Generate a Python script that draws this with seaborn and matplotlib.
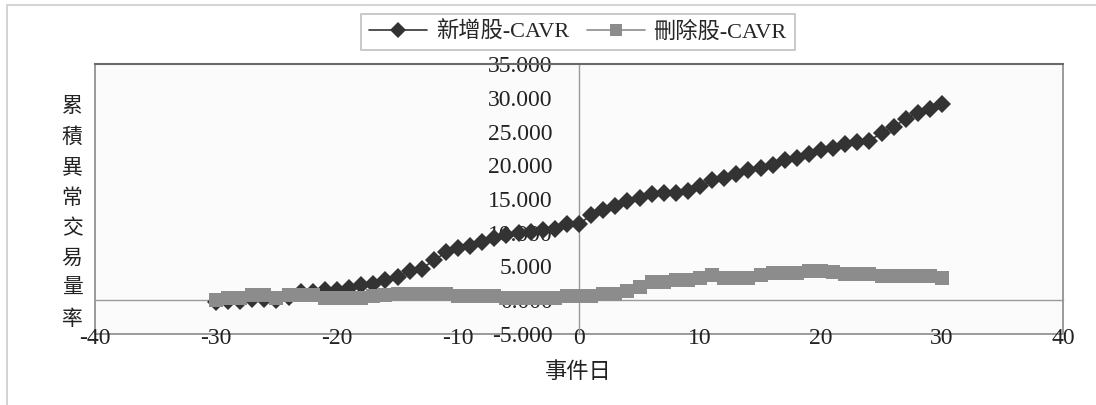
import matplotlib
matplotlib.use("Agg")
import matplotlib.pyplot as plt
import numpy as np
import pandas as pd
import seaborn as sns
from matplotlib.patches import Rectangle
from matplotlib.ticker import FormatStrFormatter, MultipleLocator

# ---------------- data ----------------
event_days = list(range(-30, 31))
added_cavr = [
    -0.3, -0.1, -0.1, 0.2, 0.2, 0.1, 0.5, 1.2, 1.2, 1.5,
    1.5, 1.8, 2.3, 2.4, 3.0, 3.5, 4.3, 4.7, 5.9, 7.1,
    7.7, 8.0, 8.7, 9.15, 9.7, 10.0, 10.1, 10.4, 10.6, 11.35,
    11.3, 12.6, 13.3, 14.0, 14.7, 15.1, 15.7, 15.9, 15.9, 16.2,
    16.9, 17.8, 18.1, 18.7, 19.3, 19.6, 20.1, 20.8, 21.1, 21.6,
    22.25, 22.5, 23.1, 23.4, 23.6, 24.8, 25.7, 26.85, 27.8, 28.3,
    29.1,
]
deleted_cavr = [
    0.1, 0.4, 0.4, 0.75, 0.75, 0.4, 0.75, 0.75, 0.75, 0.4,
    0.4, 0.4, 0.4, 0.65, 0.75, 0.9, 1.0, 1.0, 1.0, 1.0,
    0.7, 0.65, 0.65, 0.65, 0.4, 0.35, 0.35, 0.35, 0.3, 0.6,
    0.6, 0.7, 1.0, 1.0, 1.4, 1.9, 2.7, 2.7, 3.0, 3.0,
    3.35, 3.7, 3.3, 3.3, 3.3, 3.7, 4.05, 4.05, 4.05, 4.35,
    4.35, 4.2, 3.85, 3.85, 3.85, 3.55, 3.55, 3.55, 3.55, 3.55,
    3.35,
]
series_names = ["新增股-CAVR", "刪除股-CAVR"]
y_label_text = "累積異常交易量率"
x_label_text = "事件日"

# ---------------- style ----------------
sns.set_style("white")
plt.rcParams["font.family"] = ["Liberation Serif", "Noto Sans CJK TC", "DejaVu Sans"]
plt.rcParams["axes.unicode_minus"] = False

df = pd.DataFrame({
    "day": event_days * 2,
    "value": added_cavr + deleted_cavr,
    "series": [series_names[0]] * len(event_days) + [series_names[1]] * len(event_days),
})

fig = plt.figure(figsize=(10.96, 4.05), dpi=100)
ax = fig.add_axes([95 / 1096, 1 - 334 / 405, (1063 - 95) / 1096, (334 - 64) / 405])

sns.lineplot(
    data=df, x="day", y="value", hue="series", style="series",
    palette={series_names[0]: "#333333", series_names[1]: "#8c8c8c"},
    markers={series_names[0]: "D", series_names[1]: "s"},
    dashes=False, markersize=9.5, linewidth=1.2, markeredgewidth=0,
    ax=ax, legend=True,
)
for ln in ax.lines:
    ln.set_zorder(3)

handles, labels = ax.get_legend_handles_labels()
ax.get_legend().remove()

ax.set_xlim(-40, 40)
ax.set_ylim(-5, 35)
ax.xaxis.set_major_locator(MultipleLocator(10))
ax.yaxis.set_major_locator(MultipleLocator(5))
ax.yaxis.set_major_formatter(FormatStrFormatter("%.3f"))

ax.set_facecolor("#fbfbfb")
ax.patch.set_edgecolor("#8a8a8a")
ax.patch.set_linewidth(1.2)

ax.spines["left"].set_position(("data", 0))
ax.spines["bottom"].set_position(("data", 0))
for s in ("left", "bottom"):
    ax.spines[s].set_color("#9a9a9a")
    ax.spines[s].set_linewidth(1.0)
ax.spines["right"].set_visible(False)
ax.spines["top"].set_color("#6a6a6a")
ax.spines["top"].set_linewidth(1.5)

ax.tick_params(axis="x", direction="in", length=7, width=1, color="#9a9a9a",
               labelsize=17, pad=20, labelcolor="#222222")
ax.tick_params(axis="y", direction="in", length=6, width=1, color="#9a9a9a",
               labelsize=17, pad=19, labelcolor="#222222")

ax.set_xlabel("")
ax.set_ylabel("")
fig.text(578 / 1096, 1 - 373 / 405, x_label_text, ha="center", va="center",
         fontsize=16, color="#222222")
fig.text(72 / 1096, 1 - 214 / 405, "\n".join(y_label_text), ha="center", va="center",
         fontsize=15, linespacing=1.78, color="#222222")

leg = fig.legend(handles, labels, loc="center", bbox_to_anchor=(578 / 1096, 1 - 32 / 405),
                 ncol=2, frameon=True, fancybox=False, edgecolor="#b0b0b0",
                 fontsize=16, handlelength=2.6, columnspacing=0.8, handletextpad=0.4,
                 borderpad=0.35, markerscale=0.85)
leg.get_frame().set_linewidth(1.2)

fig.add_artist(Rectangle((7 / 1096, -0.02), 1.0, 1 - 5 / 405 + 0.02, transform=fig.transFigure,
                         fill=False, edgecolor="#cccccc", linewidth=1.2))

fig.savefig("out.png", dpi=100)
